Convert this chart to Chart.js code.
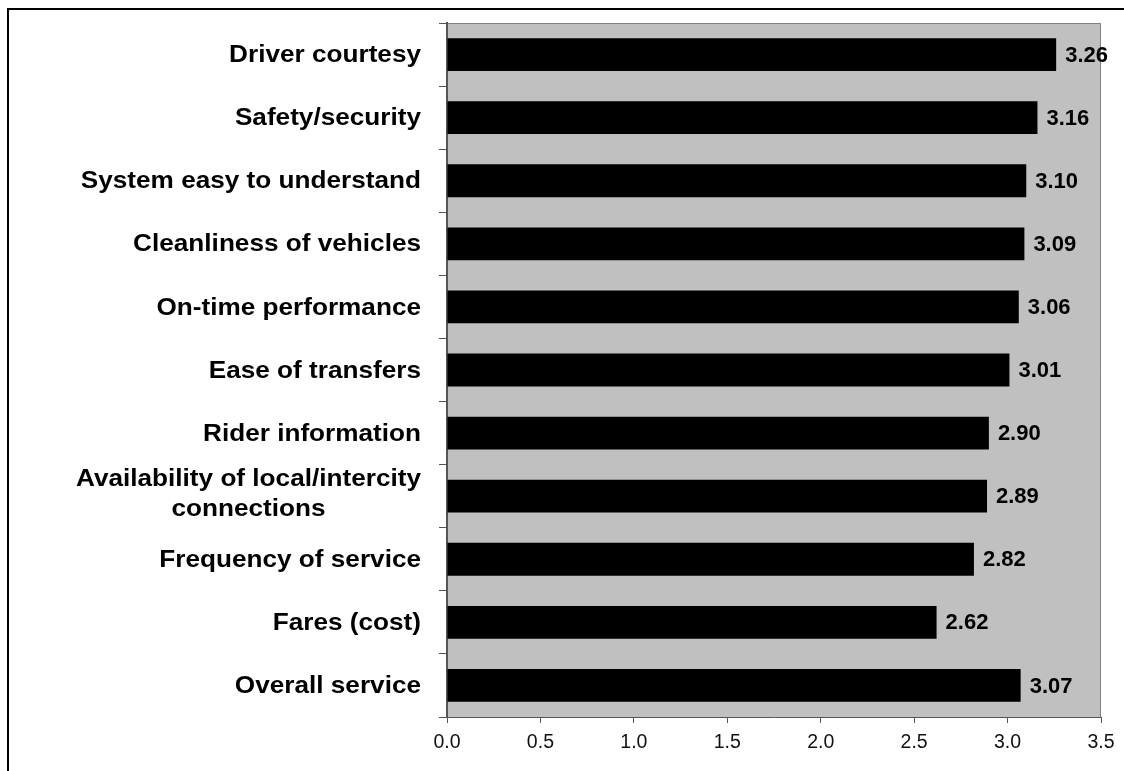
<!DOCTYPE html>
<html>
<head>
<meta charset="utf-8">
<script src="https://cdn.jsdelivr.net/npm/chart.js@4/dist/chart.umd.min.js"></script>
<style>
  html, body { margin: 0; padding: 0; background: #fff; }
  #wrap { position: relative; width: 1124px; height: 771px; overflow: hidden; }
  #frame { position: absolute; left: 7px; top: 8px; width: 1200px; height: 900px;
           border-left: 2px solid #000; border-top: 2px solid #000; }
  canvas { position: absolute; left: 0; top: 0; }
</style>
</head>
<body>
<div id="wrap">
  <div id="frame"></div>
  <canvas id="c" width="1124" height="771"></canvas>
</div>
<script>
const categories = [
  "Driver courtesy",
  "Safety/security",
  "System easy to understand",
  "Cleanliness of vehicles",
  "On-time performance",
  "Ease of transfers",
  "Rider information",
  ["Availability of local/intercity", "connections"],
  "Frequency of service",
  "Fares (cost)",
  "Overall service"
];
const ratings = [3.26, 3.16, 3.10, 3.09, 3.06, 3.01, 2.90, 2.89, 2.82, 2.62, 3.07];
const xTicks = [0.0, 0.5, 1.0, 1.5, 2.0, 2.5, 3.0, 3.5];

const FONT = "'Liberation Sans', Arial, sans-serif";

const plotBg = {
  id: 'plotBg',
  beforeDraw(chart) {
    const {ctx, chartArea: a} = chart;
    ctx.save();
    ctx.fillStyle = '#C0C0C0';
    ctx.fillRect(a.left, a.top, a.right - a.left, a.bottom - a.top);
    ctx.strokeStyle = '#808080';
    ctx.lineWidth = 1;
    ctx.beginPath();
    ctx.moveTo(a.left, a.top + 0.5);
    ctx.lineTo(a.right - 0.5, a.top + 0.5);
    ctx.lineTo(a.right - 0.5, a.bottom);
    ctx.stroke();
    ctx.restore();
  }
};

const catLabels = {
  id: 'catLabels',
  afterDraw(chart) {
    const {ctx} = chart;
    const y = chart.scales.y;
    const rightEdge = y.right - 26;
    const sx = 1.09;
    ctx.save();
    ctx.fillStyle = '#000';
    ctx.font = "bold 24px " + FONT;
    ctx.textBaseline = 'middle';
    const lh = 29.5;
    categories.forEach((lab, i) => {
      const cy = y.getPixelForTick(i);
      const lines = Array.isArray(lab) ? lab : [lab];
      const widths = lines.map(l => ctx.measureText(l).width);
      const maxW = Math.max(...widths);
      const multi = lines.length > 1;
      const y0 = cy - (lines.length - 1) * lh / 2 + (multi ? -2 : 1);
      lines.forEach((l, k) => {
        ctx.save();
        ctx.translate(rightEdge, y0 + k * lh);
        ctx.scale(sx, 1);
        if (multi) {
          ctx.textAlign = 'center';
          ctx.fillText(l, -maxW / 2, 0);
        } else {
          ctx.textAlign = 'right';
          ctx.fillText(l, 0, 0);
        }
        ctx.restore();
      });
    });
    ctx.restore();
  }
};

const valueLabels = {
  id: 'valueLabels',
  afterDatasetsDraw(chart) {
    const {ctx} = chart;
    const meta = chart.getDatasetMeta(0);
    ctx.save();
    ctx.fillStyle = '#000';
    ctx.font = "bold 22px " + FONT;
    ctx.textAlign = 'left';
    ctx.textBaseline = 'middle';
    meta.data.forEach((bar, i) => {
      ctx.fillText(ratings[i].toFixed(2), bar.x + 9, bar.y + 1);
    });
    ctx.restore();
  }
};

new Chart(document.getElementById('c'), {
  type: 'bar',
  data: {
    labels: categories,
    datasets: [{
      data: ratings,
      backgroundColor: '#000',
      borderWidth: 0,
      barPercentage: 0.52,
      categoryPercentage: 1.0
    }]
  },
  options: {
    indexAxis: 'y',
    responsive: false,
    animation: false,
    layout: { padding: { top: 23, right: 23, left: 0, bottom: 0 } },
    plugins: { legend: { display: false }, tooltip: { enabled: false } },
    scales: {
      y: {
        type: 'category',
        offset: true,
        ticks: { display: false },
        grid: { display: true, offset: true, drawOnChartArea: false, drawTicks: true,
                tickLength: 8, color: '#555', lineWidth: 1 },
        border: { display: true, color: '#555', width: 2 },
        afterFit(scale) { scale.width = 447; }
      },
      x: {
        type: 'linear',
        min: 0,
        max: 3.5,
        afterBuildTicks(scale) { scale.ticks = xTicks.map(v => ({ value: v })); },
        ticks: {
          callback: v => Number(v).toFixed(1),
          font: { family: FONT, size: 19.5 },
          color: '#111',
          padding: 8
        },
        grid: { display: true, drawOnChartArea: false, drawTicks: true,
                tickLength: 6, color: '#555', lineWidth: 1 },
        border: { display: true, color: '#555', width: 1 },
        afterFit(scale) { scale.height = 54; }
      }
    }
  },
  plugins: [plotBg, catLabels, valueLabels]
});
</script>
</body>
</html>
